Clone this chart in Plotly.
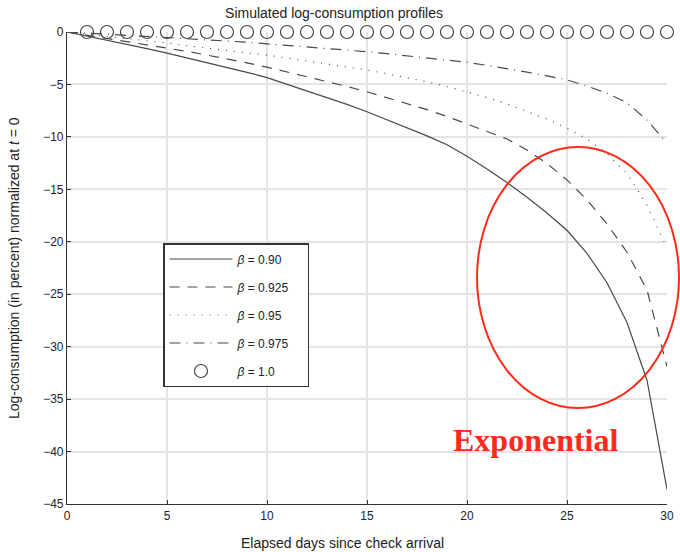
import plotly.graph_objects as go

days = list(range(0, 31))
circle_days = list(range(1, 31))

beta_090 = [0, -0.38, -0.77, -1.17, -1.59, -2.02, -2.46, -2.9, -3.37, -3.85, -4.35,
            -4.98, -5.6, -6.25, -6.9, -7.6, -8.35, -9.1, -9.9, -10.75, -11.85,
            -13.05, -14.35, -15.75, -17.25, -18.9, -21.1, -23.9, -27.7, -33.2, -43.6]
beta_0925 = [0, -0.3, -0.6, -0.9, -1.2, -1.5, -1.85, -2.2, -2.55, -2.95, -3.35,
             -3.8, -4.25, -4.7, -5.2, -5.7, -6.25, -6.8, -7.4, -8.05, -8.75,
             -9.45, -10.2, -11.25, -12.55, -14.1, -16.0, -18.3, -21.0, -24.6, -31.9]
beta_095 = [0, -0.2, -0.4, -0.6, -0.82, -1.05, -1.3, -1.55, -1.8, -2.0, -2.2,
            -2.48, -2.75, -3.03, -3.3, -3.62, -3.98, -4.35, -4.75, -5.2, -5.7,
            -6.25, -6.85, -7.55, -8.3, -9.17, -10.2, -11.6, -13.5, -16.5, -20.6]
beta_0975 = [0, -0.1, -0.2, -0.31, -0.42, -0.53, -0.64, -0.75, -0.86, -0.98, -1.12,
             -1.27, -1.42, -1.57, -1.72, -1.88, -2.07, -2.26, -2.46, -2.67, -2.89,
             -3.18, -3.48, -3.82, -4.18, -4.57, -5.15, -5.84, -6.75, -8.4, -10.6]
beta_100 = [0] * 30

x_ticks = [0, 5, 10, 15, 20, 25, 30]
y_ticks = [0, -5, -10, -15, -20, -25, -30, -35, -40, -45]

W, H = 680, 552
ML, MR, MT, MB = 67, 13, 32, 48
PW, PH = W - ML - MR, H - MT - MB


def px(xp):
    return (xp - ML) / PW


def py(yp):
    return (H - MB - yp) / PH


line_col = "#4a4a4a"
pad = "&nbsp;" * 4
fig = go.Figure()
series = [
    ("0.90", beta_090, "solid"),
    ("0.925", beta_0925, "10px,8px"),
    ("0.95", beta_095, "1px,7px"),
    ("0.975", beta_0975, "11px,6px,1px,6px"),
]
for i, (lab, vals, dash) in enumerate(series):
    fig.add_trace(go.Scatter(
        x=days, y=vals, mode="lines", name=f"<i>β</i> = {lab}{pad}",
        legendgroup=f"g{i}",
        line=dict(color=line_col, width=1.2, dash=dash),
    ))
fig.add_trace(go.Scatter(
    x=circle_days, y=beta_100, mode="markers", name=f"<i>β</i> = 1.0{pad}",
    legendgroup="g4", cliponaxis=False,
    marker=dict(symbol="circle-open", size=13, color="#444", line=dict(width=1.2, color="#444")),
))

# Red ellipse highlight
fig.add_shape(type="circle", xref="paper", yref="paper",
              x0=px(477), x1=px(679), y0=py(408), y1=py(147),
              line=dict(color="#ff2a1a", width=2))
fig.add_annotation(text="<b>Exponential</b>", xref="paper", yref="paper",
                   x=px(535), y=py(440), xanchor="center", yanchor="middle",
                   showarrow=False, font=dict(family="Liberation Serif", size=32, color="#ff2a1a"))

# Axis titles (centered on the figure as in the reference)
fig.add_annotation(text="Elapsed days since check arrival", xref="paper", yref="paper",
                   x=px(342), y=py(543), xanchor="center", yanchor="middle",
                   showarrow=False, font=dict(size=14, color="#222"))
fig.add_annotation(text="Log-consumption (in percent) normalized at <i>t</i> = 0",
                   xref="paper", yref="paper", textangle=-90,
                   x=px(14), y=py(268), xanchor="center", yanchor="middle",
                   showarrow=False, font=dict(size=14, color="#222"))

axis_common = dict(showgrid=True, gridcolor="#e4e4e4", gridwidth=1.5,
                   showline=True, linecolor="#333", linewidth=1.2,
                   ticks="inside", ticklen=4, tickcolor="#333", zeroline=False,
                   tickfont=dict(size=12, color="#222"), automargin=False)
fig.update_xaxes(range=[0, 30], tickvals=x_ticks, **axis_common)
fig.update_yaxes(range=[-45, 0], tickvals=y_ticks, **axis_common)

fig.update_layout(
    width=W, height=H,
    margin=dict(l=ML, r=MR, t=MT, b=MB),
    plot_bgcolor="white", paper_bgcolor="white",
    font=dict(family="Liberation Sans", size=12, color="#222"),
    title=dict(text="Simulated log-consumption profiles", x=334 / W, xanchor="center",
               y=1 - 13 / H, yanchor="middle", font=dict(size=14, color="#222")),
    legend=dict(x=px(163), y=py(243), xanchor="left", yanchor="top",
                bordercolor="#333", borderwidth=1.5, bgcolor="white",
                itemwidth=63, tracegroupgap=9,
                font=dict(size=12, color="#222")),
    showlegend=True,
)

fig.write_html("out.html", config={"displayModeBar": False},
               post_script="document.body.style.margin='0';")
